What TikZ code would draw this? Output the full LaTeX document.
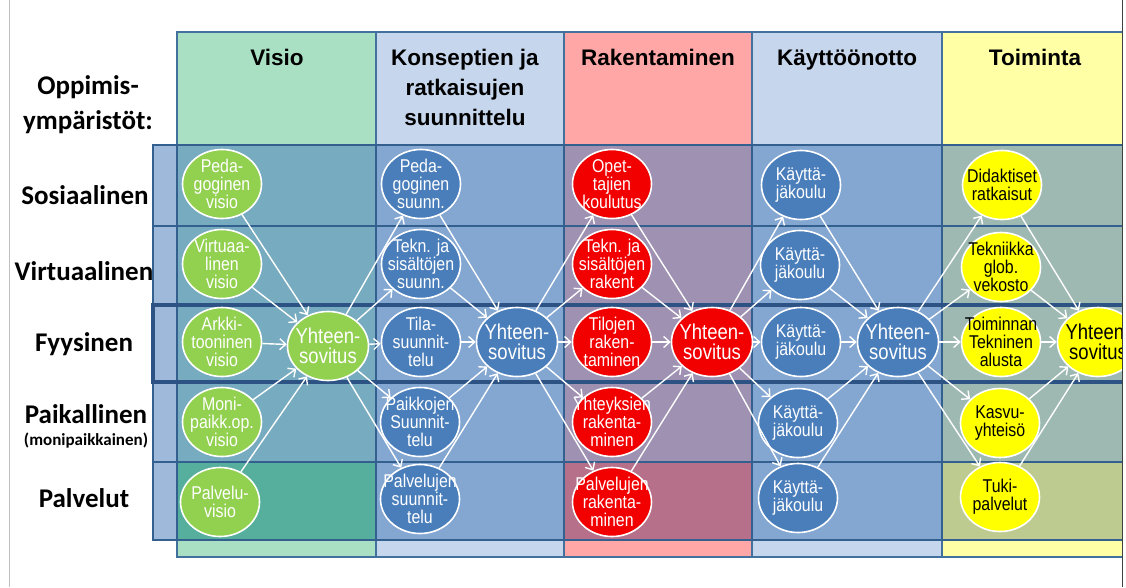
\documentclass[tikz,border=0pt]{standalone}
\usepackage{fontspec}
\setmainfont{Liberation Sans}
\newfontfamily\calfont{Carlito}
\newfontfamily\narrowfont[FakeStretch=0.86]{Liberation Sans}
\usetikzlibrary{shapes.geometric,arrows.meta}
\definecolor{cgreen}{HTML}{A9E0C3}
\definecolor{cblue}{HTML}{C6D6EC}
\definecolor{cpink}{HTML}{FFA6A6}
\definecolor{cyellow}{HTML}{FFFFA6}
\definecolor{coledge}{HTML}{41719C}
\definecolor{rowedge}{HTML}{33608F}
\definecolor{thickedge}{HTML}{2C5383}
\definecolor{bandblue}{HTML}{4F81BD}
\definecolor{pgreen}{HTML}{56AE9C}
\definecolor{ppink}{HTML}{B6708A}
\definecolor{pyellow}{HTML}{BDCA90}
\definecolor{ngreen}{HTML}{92D050}
\definecolor{nblue}{HTML}{4A7EBB}
\definecolor{nred}{HTML}{F20000}
\definecolor{nyellow}{HTML}{FFFF00}
\begin{document}
\begin{tikzpicture}[x=1pt,y=-1pt,
  colbox/.style={fill=#1, draw=coledge, line width=1.5pt},
  bandfill/.style={fill=bandblue, fill opacity=0.55},
  nd/.style={ellipse, draw=white, line width=1.6pt, minimum width=79pt, minimum height=69pt,
    inner xsep=-30pt, inner ysep=-30pt, align=center, text=white,
    font=\narrowfont\fontsize{18.5}{18}\selectfont},
  yh/.style={nd, minimum width=81pt, minimum height=69pt, font=\narrowfont\fontsize{21.5}{20.5}\selectfont},
  hdr/.style={font=\bfseries\fontsize{22.5}{30}\selectfont, align=center},
  lbl/.style={font=\calfont\bfseries\fontsize{27}{30}\selectfont},
  arr/.style={draw=white, line width=1.4pt, -{Straight Barb[length=6pt,width=11pt]}}]
\useasboundingbox (0,0) rectangle (1126,587);
\fill[white] (0,0) rectangle (1126,587);
\begin{scope}
\clip (0,0) rectangle (1122,587);
% columns
\draw[colbox=cgreen] (177,32) rectangle (376,557);
\draw[colbox=cblue] (376,32) rectangle (564,557);
\draw[colbox=cpink] (564,32) rectangle (752,557);
\draw[colbox=cblue] (752,32) rectangle (942,557);
\draw[colbox=cyellow] (942,32) rectangle (1130,557);
% bands
\fill[bandfill] (153,145) rectangle (1130,540);
\fill[pgreen] (177,462) rectangle (376,540);
\fill[ppink] (564,462) rectangle (752,540);
\fill[pyellow] (942,462) rectangle (1130,540);
\foreach \x in {177,376,564,752,942}
  \draw[rowedge, line width=1.8pt] (\x,145) -- (\x,540);
\draw[rowedge, line width=2.5pt] (153,145) rectangle (1130,540);
\foreach \y in {226,462}
  \draw[rowedge, line width=2.5pt] (153,\y) -- (1130,\y);
\draw[thickedge, line width=4.5pt] (153,305) rectangle (1132,382);
% headers
\node[hdr, anchor=base] (hV) at (277,65) {Visio};
\node[hdr] (hK) at (465,87) {Konseptien ja\\ratkaisujen\\suunnittelu};
\node[hdr, anchor=base] (hR) at (658,65) {Rakentaminen};
\node[hdr, anchor=base] (hKa) at (847,65) {Käyttöönotto};
\node[hdr, anchor=base] (hT) at (1035,65) {Toiminta};
% left labels
\node[lbl] (l0) at (88,87) {Oppimis-};
\node[lbl] (l1) at (88,122) {ympäristöt:};
\node[lbl] (l2) at (85,195) {Sosiaalinen};
\node[lbl] (l3) at (84,271) {Virtuaalinen};
\node[lbl] (l4) at (84,344) {Fyysinen};
\node[lbl] (l5) at (86,414) {Paikallinen};
\node[font=\calfont\bfseries\fontsize{17}{20}\selectfont] (l6) at (86,441) {(monipaikkainen)};
\node[lbl] (l7) at (84,498) {Palvelut};
% green nodes
\node[nd, fill=ngreen] (g1) at (222,184) {Peda-\\goginen\\visio};
\node[nd, fill=ngreen] (g2) at (222,264) {Virtuaa-\\linen\\visio};
\node[nd, fill=ngreen] (g3) at (222,342) {Arkki-\\tooninen\\visio};
\node[nd, fill=ngreen] (g4) at (222,422) {Moni-\\paikk.op.\\visio};
\node[nd, fill=ngreen] (g5) at (220,502) {Palvelu-\\visio};
\node[yh, fill=ngreen] (gY) at (328,346) {Yhteen-\\sovitus};
% blue nodes
\node[nd, fill=nblue] (b1) at (421,184) {Peda-\\goginen\\suunn.};
\node[nd, fill=nblue] (b2) at (421,264) {Tekn. ja\\sisältöjen\\suunn.};
\node[nd, fill=nblue] (b3) at (421,342) {Tila-\\suunnit-\\telu};
\node[nd, fill=nblue] (b4) at (420,422) {Paikkojen\\Suunnit-\\telu};
\node[nd, fill=nblue] (b5) at (420,499) {Palvelujen\\suunnit-\\telu};
\node[yh, fill=nblue] (bY) at (517,342) {Yhteen-\\sovitus};
% red nodes
\node[nd, fill=nred] (r1) at (612,184) {Opet-\\tajien\\koulutus};
\node[nd, fill=nred] (r2) at (612,264) {Tekn. ja\\sisältöjen\\rakent};
\node[nd, fill=nred] (r3) at (612,342) {Tilojen\\raken-\\taminen};
\node[nd, fill=nred] (r4) at (612,422) {Yhteyksien\\rakenta-\\minen};
\node[nd, fill=nred] (r5) at (612,502) {Palvelujen\\rakenta-\\minen};
\node[yh, fill=nred] (rY) at (712,342) {Yhteen-\\sovitus};
% kayttajakoulu
\node[nd, fill=nblue] (k1) at (801,185) {Käyttä-\\jäkoulu};
\node[nd, fill=nblue] (k2) at (800,265) {Käyttä-\\jäkoulu};
\node[nd, fill=nblue] (k3) at (801,342) {Käyttä-\\jäkoulu};
\node[nd, fill=nblue] (k4) at (798,423) {Käyttä-\\jäkoulu};
\node[nd, fill=nblue] (k5) at (798,498) {Käyttä-\\jäkoulu};
\node[yh, fill=nblue] (kY) at (898,342) {Yhteen-\\sovitus};
% yellow
\node[nd, fill=nyellow, text=black] (y1) at (1002,185) {Didaktiset\\ratkaisut};
\node[nd, fill=nyellow, text=black] (y2) at (1001,267) {Tekniikka\\glob.\\vekosto};
\node[nd, fill=nyellow, text=black] (y3) at (1001,342) {Toiminnan\\Tekninen\\alusta};
\node[nd, fill=nyellow, text=black] (y4) at (1000,423) {Kasvu-\\yhteisö};
\node[nd, fill=nyellow, text=black] (y5) at (1000,497) {Tuki-\\palvelut};
\node[yh, fill=nyellow, text=black] (yY) at (1098,342) {Yhteen-\\sovitus};
% arrows
\foreach \i in {1,...,5} {
  \draw[arr] (g\i) -- (gY);
  \draw[arr] (gY) -- (b\i);
  \draw[arr] (b\i) -- (bY);
  \draw[arr] (bY) -- (r\i);
  \draw[arr] (r\i) -- (rY);
  \draw[arr] (rY) -- (k\i);
  \draw[arr] (k\i) -- (kY);
  \draw[arr] (kY) -- (y\i);
  \draw[arr] (y\i) -- (yY);
}
\end{scope}
\draw[black!25, line width=1pt] (9.5,0) -- (9.5,587);
\draw[black!75, line width=1.5pt] (1122.5,0) -- (1122.5,587);
\end{tikzpicture}
\end{document}
